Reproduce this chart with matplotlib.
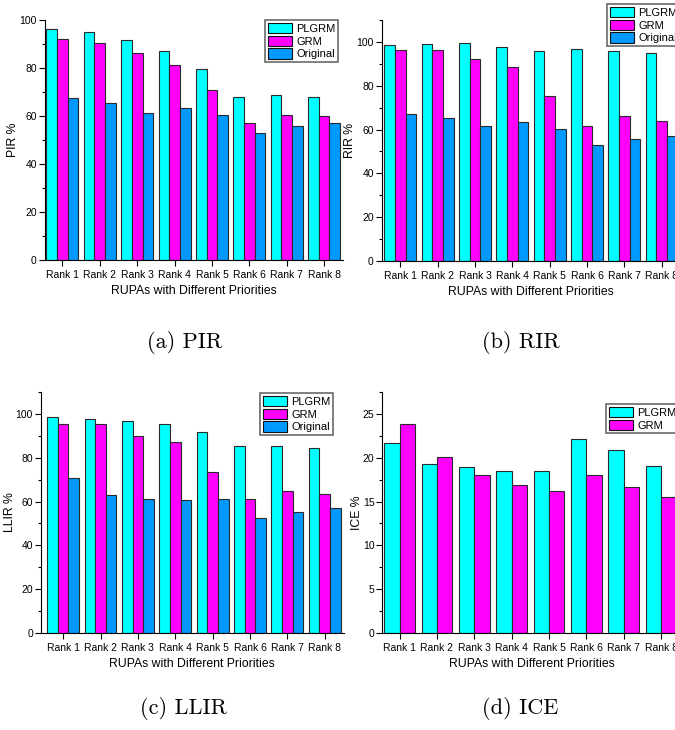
import numpy as np
import matplotlib.pyplot as plt
from matplotlib.ticker import MultipleLocator

plt.rcParams['font.family'] = ['Liberation Sans', 'DejaVu Sans']

ranks = ['Rank 1', 'Rank 2', 'Rank 3', 'Rank 4', 'Rank 5', 'Rank 6', 'Rank 7', 'Rank 8']
series_names = ['PLGRM', 'GRM', 'Original']
colors = ['#00FFFF', '#FF00FF', '#0099FF']

original = [67.3, 65.4, 61.4, 63.4, 60.4, 53.0, 55.7, 57.2]

pir_plgrm = [96.1, 94.9, 91.8, 87.2, 79.4, 67.8, 68.6, 67.8]
pir_grm = [91.9, 90.6, 86.4, 81.3, 71.0, 56.9, 60.4, 60.1]

rir_plgrm = [98.8, 99.1, 99.5, 97.6, 95.7, 96.7, 96.0, 94.8]
rir_grm = [96.5, 96.3, 92.1, 88.7, 75.5, 61.8, 66.4, 64.1]

llir_plgrm = [98.5, 97.9, 96.8, 95.3, 91.9, 85.2, 85.2, 84.6]
llir_grm = [95.3, 95.3, 89.8, 87.1, 73.5, 61.0, 65.0, 63.3]
llir_original = [70.9, 63.2, 61.0, 60.6, 61.0, 52.3, 55.2, 56.9]

ice_plgrm = [21.65, 19.33, 18.92, 18.54, 18.46, 22.11, 20.93, 19.03]
ice_grm = [23.82, 20.06, 18.0, 16.94, 16.25, 18.0, 16.63, 15.49]

W, H = 675, 730
fig = plt.figure(figsize=(W / 100, H / 100), dpi=100)


def px_axes(left, top, right, bottom):
    return fig.add_axes([left / W, 1 - bottom / H, (right - left) / W, (bottom - top) / H])


def grouped(ax, data, width, ylabel, ylim, major, xlim, leg_xy):
    x = np.arange(len(ranks))
    n = len(data)
    for i, vals in enumerate(data):
        ax.bar(x + (i - (n - 1) / 2) * width, vals, width, color=colors[i],
               edgecolor='#2a2a2a', linewidth=0.8, label=series_names[i])
    ax.set_xlim(*xlim)
    ax.set_ylim(*ylim)
    ax.set_xticks(x)
    ax.set_xticklabels(ranks)
    ax.yaxis.set_major_locator(MultipleLocator(major))
    ax.yaxis.set_minor_locator(MultipleLocator(major / 2))
    ax.spines['top'].set_visible(False)
    ax.spines['right'].set_visible(False)
    ax.tick_params(axis='both', which='major', direction='out', length=4, width=0.8,
                   labelsize=7.5, pad=1.5)
    ax.tick_params(axis='x', which='major', pad=3)
    ax.tick_params(axis='y', which='minor', direction='out', length=2, width=0.8)
    ax.set_xlabel('RUPAs with Different Priorities', fontsize=8.8, labelpad=4)
    ax.set_ylabel(ylabel, fontsize=8.8, labelpad=0)
    leg = ax.legend(loc='upper left', bbox_to_anchor=(leg_xy[0] / W, 1 - leg_xy[1] / H),
                    bbox_transform=fig.transFigure, fontsize=8, frameon=True,
                    fancybox=False, borderpad=0.25, borderaxespad=0, labelspacing=0.15,
                    handlelength=2.2, handleheight=1.1, handletextpad=0.35)
    leg.get_frame().set_edgecolor('#444444')
    leg.get_frame().set_linewidth(1.2)
    for h in leg.legend_handles:
        h.set_edgecolor('#111111')


ax_a = px_axes(44.5, 20, 343.5, 260)
grouped(ax_a, [pir_plgrm, pir_grm, original], 0.285, 'PIR %', (0, 100), 20,
        (-0.48, 7.52), (265, 20))

ax_b = px_axes(381.5, 20, 680.5, 261)
grouped(ax_b, [rir_plgrm, rir_grm, original], 0.285, 'RIR %', (0, 110), 20,
        (-0.5, 7.5), (607, 4))

ax_c = px_axes(40.7, 392, 343.5, 633)
grouped(ax_c, [llir_plgrm, llir_grm, llir_original], 0.285, 'LLIR %', (0, 110), 20,
        (-0.6, 7.5), (260, 393))

ax_d = px_axes(382, 392, 681, 633)
grouped(ax_d, [ice_plgrm, ice_grm], 0.41, 'ICE %', (0, 27.5), 5,
        (-0.47, 7.53), (606, 404))

captions = [('(a) PIR', 185, 342), ('(b) RIR', 521, 342),
            ('(c) LLIR', 183, 708), ('(d) ICE', 520, 708)]
for text, cx, cy in captions:
    fig.text(cx / W, 1 - cy / H, text, ha='center', va='center',
             fontsize=16, family='cmr10')

fig.savefig('out.png', dpi=100)
